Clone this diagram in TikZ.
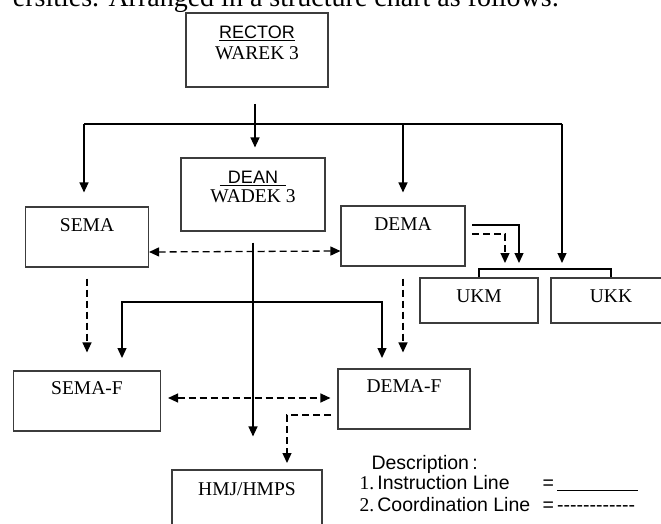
\documentclass[tikz,border=0pt]{standalone}
\usepackage{fontspec}
\setmainfont{Liberation Serif}
\setsansfont{Liberation Sans}
\usetikzlibrary{positioning,arrows.meta}

\definecolor{boxgray}{RGB}{60,60,60}
\newcommand{\boxfont}{\fontsize{19.5}{22}\selectfont}
\newcommand{\legendfont}{\fontsize{19.5}{22}\selectfont\sffamily}

\tikzset{
  pointer/.tip={Triangle[length=10pt,width=9pt]},
  unit/.style={draw=boxgray, line width=1.1pt, inner sep=0pt},
  caption/.style={anchor=base, font=\boxfont},
  instr/.style={line width=1.3pt, -pointer},
  coord/.style={instr, dash pattern=on 7pt off 4pt},
}

\begin{document}
\begin{tikzpicture}[x=1pt,y=-1pt]
  \clip (0,0) rectangle (661,524);

  \node[anchor=base east, font=\fontsize{28}{30}\selectfont] (intro) at (563,7) {ersities. Arranged in a structure chart as follows:};

  % boxes
  \node[unit, minimum width=142pt, minimum height=74pt] (rector) at (257,50) {};
  \node[unit, minimum width=144pt, minimum height=73pt] (dean) at (253,194.5) {};
  \node[unit, minimum width=123pt, minimum height=60pt] (sema) at (87,237) {};
  \node[unit, minimum width=124pt, minimum height=60pt] (dema) at (403,236) {};
  \node[unit, minimum width=118pt, minimum height=45pt] (ukm) at (479,300.5) {};
  \node[unit, minimum width=120pt, minimum height=45pt] (ukk) at (611,300.5) {};
  \node[unit, minimum width=147pt, minimum height=60pt] (semaf) at (87,401) {};
  \node[unit, minimum width=132pt, minimum height=60pt] (demaf) at (404,399) {};
  \node[unit, minimum width=150pt, minimum height=70pt] (hmj) at (247,505) {};

  % captions
  \node[caption] (rector-title) at ([yshift=-26pt]rector.north) {\fontsize{18}{21}\selectfont\sffamily\underline{RECTOR}};
  \node[caption] (rector-name) at ([yshift=-47pt]rector.north) {WAREK 3};
  \node[caption] (dean-title) at ([yshift=-26pt]dean.north) {\fontsize{18}{21}\selectfont\sffamily\underline{\hspace{8pt}DEAN\hspace{8pt}}};
  \node[caption] (dean-name) at ([yshift=-45pt]dean.north) {WADEK 3};
  \node[caption] (sema-name) at ([yshift=-25pt]sema.north) {SEMA};
  \node[caption] (dema-name) at ([yshift=-25pt]dema.north) {DEMA};
  \node[caption] (ukm-name) at ([yshift=-25pt]ukm.north) {UKM};
  \node[caption] (ukk-name) at ([yshift=-25pt]ukk.north) {UKK};
  \node[caption] (semaf-name) at ([yshift=-24pt]semaf.north) {SEMA-F};
  \node[caption] (demaf-name) at ([yshift=-24pt]demaf.north) {DEMA-F};
  \node[caption] (hmj-name) at ([yshift=-26pt]hmj.north) {HMJ/HMPS};

  % legend
  \node[anchor=base west, font=\legendfont] (legend) at (368,469) {Description\,:};
  \node[anchor=base west, font=\legendfont] (legend-instr) at (356,489) {{\rmfamily 1.}\,Instruction Line};
  \node[anchor=base west, font=\legendfont] (legend-coord) at (356,511) {{\rmfamily 2.}\,Coordination Line};
  \node[anchor=base west, font=\legendfont] (legend-instr-eq) at (539,489) {=\,\rule[-2pt]{81pt}{0.8pt}};
  \node[anchor=base west, font=\legendfont] (legend-coord-eq) at (539,511) {=\,-{}-{}-{}-{}-{}-{}-{}-{}-{}-{}-{}-};

  % instruction lines from the rector
  \coordinate (rector-out) at (255,104);
  \coordinate (bus-l) at (84,124);
  \coordinate (bus-r) at (562,124);
  \coordinate (units-bar) at (546,269);
  \draw[line width=1.3pt] (bus-l) -- (bus-r);
  \draw[instr, shorten >=10pt] (rector-out) -- (rector-out |- dean.north);
  \draw[instr, shorten >=14pt] (bus-l) -- (bus-l |- sema.north);
  \draw[instr, shorten >=13pt] (dema.north |- bus-l) -- (dema.north);
  \draw[instr, shorten >=6pt] (bus-r) -- (bus-r |- units-bar);
  \draw[line width=1.1pt] (ukm.north) -- (ukm.north |- units-bar) -- (ukk.north |- units-bar) -- (ukk.north);

  % dema to the units
  \coordinate (dema-instr) at (472,225);
  \coordinate (dema-coord) at (472,234);
  \coordinate (units-instr) at (519,269);
  \coordinate (units-coord) at (505,269);
  \draw[instr, shorten >=6pt] (dema-instr) -| (units-instr);
  \draw[coord, shorten >=6pt] (dema-coord) -| (units-coord);

  \draw[coord, pointer-pointer] ([yshift=-15pt]sema.east) -- ([yshift=-15pt]dema.west);

  % dean down to hmj
  \draw[instr, shorten >=33pt] ([yshift=-11pt]dean.south) -- (dean.south |- hmj.north);

  \draw[coord, shorten >=18pt] ([yshift=-11pt]sema.south) -- (sema.south |- semaf.north);
  \draw[coord, shorten >=16pt] ([yshift=-12pt]dema.south) -- (dema.south |- demaf.north);

  % faculty bracket
  \coordinate (fac-l) at (122,358);
  \coordinate (fac-r) at (382,358);
  \coordinate (fac-bar) at (250,302);
  \draw[instr, pointer-pointer] (fac-l) |- (fac-bar) -| (fac-r);

  \draw[coord, pointer-pointer] ([xshift=7pt,yshift=3pt]semaf.east) -- ([xshift=-7pt,yshift=1pt]demaf.west);

  \coordinate (demaf-out) at (331,415);
  \coordinate (hmj-in) at (287,470);
  \draw[coord, shorten >=7pt] (demaf-out) -| (hmj-in);
\end{tikzpicture}
\end{document}
